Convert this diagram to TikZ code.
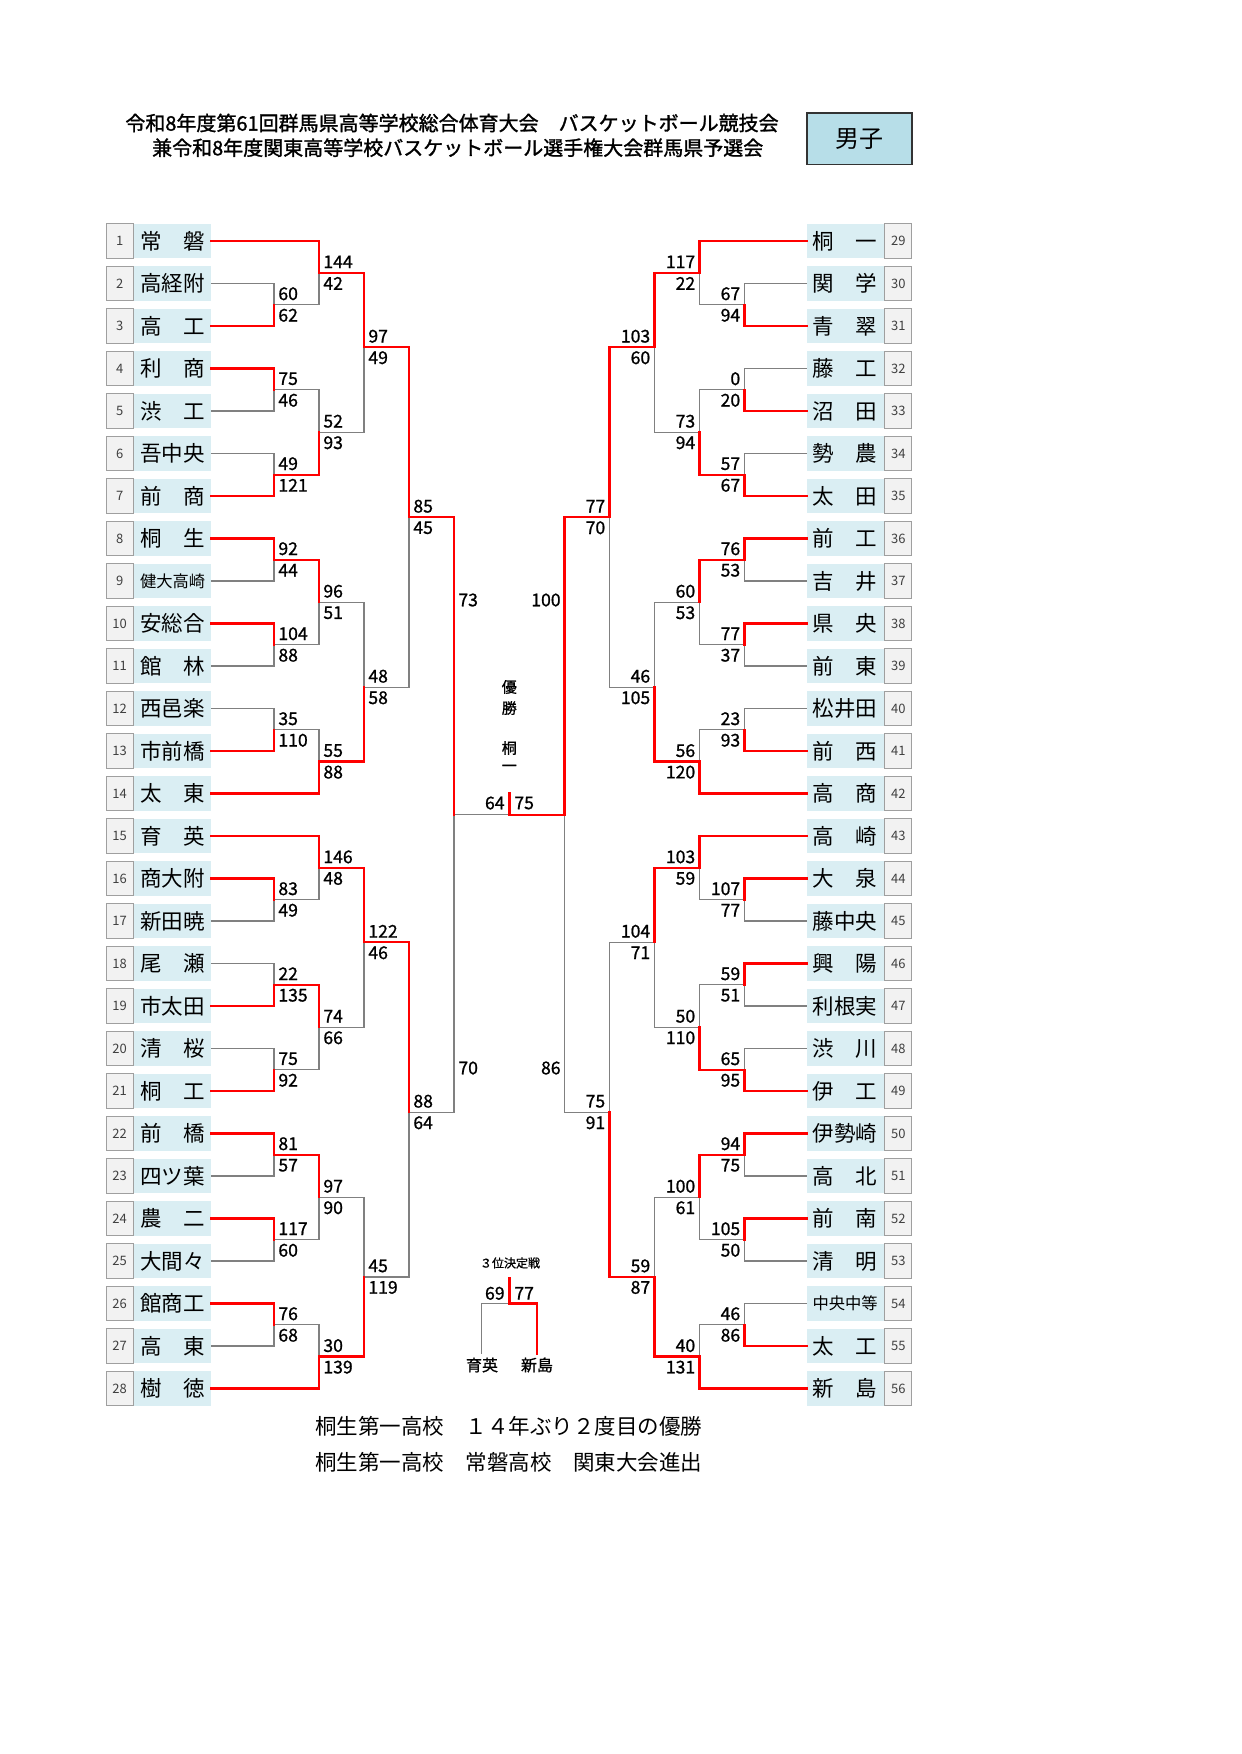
\documentclass[tikz,border=0pt]{standalone}
\usepackage{fontspec}
\newfontfamily\cjk{Noto Sans CJK JP}
\newfontfamily\cjkb[FakeBold=1.4]{Noto Sans CJK JP}
\newfontfamily\cjks[FakeBold=1]{Noto Sans CJK JP}
\definecolor{namefill}{HTML}{DAEEF3}
\definecolor{titlebox}{HTML}{B7DEE8}
\definecolor{numfill}{HTML}{F2F2F2}
\definecolor{wred}{HTML}{FF0000}
\definecolor{lgray}{HTML}{808080}
\pgfdeclarelayer{back}
\pgfdeclarelayer{paper}
\pgfsetlayers{paper,back,main}
\tikzset{
  win/.style={draw=wred, line width=1.2pt, line cap=rect},
  lose/.style={draw=lgray, line width=0.55pt},
  namebox/.style={fill=namefill, minimum width=38.35pt, minimum height=17.15pt, inner sep=0pt, font=\cjk\fontsize{10.75}{12}\selectfont},
  numbox/.style={fill=numfill, draw=gray!75, line width=0.5pt, minimum width=13.65pt, minimum height=17.15pt, inner sep=0pt, font=\cjk\fontsize{6.5}{7}\selectfont, text=black!75},
  score/.style={inner sep=0pt, font=\cjks\fontsize{8.8}{9}\selectfont},
  titletext/.style={inner sep=0pt, font=\cjkb\fontsize{10}{12}\selectfont},
  foot/.style={inner sep=0pt, anchor=west, font=\cjk\fontsize{10.75}{12}\selectfont},
  midtext/.style={inner sep=0pt, font=\cjks\fontsize{7.5}{8}\selectfont},
  tplabel/.style={inner sep=0pt, font=\cjks\fontsize{8}{9}\selectfont},
  tphead/.style={inner sep=0pt, font=\cjks\fontsize{6}{7}\selectfont},
}
\newcommand\smallnm{\fontsize{8.15}{9}\selectfont}
% match: #1 x of vertical, #2 q top, #3 x top from, #4 q bottom, #5 x bottom from, #6 winner t/b, #7 top score, #8 bottom score, #9 q join
\newcommand\M[9]{%
  \pgfmathsetmacro\ya{241+10.625*(#2)}%
  \pgfmathsetmacro\yb{241+10.625*(#4)}%
  \pgfmathsetmacro\yj{241+10.625*(#9)}%
  \pgfmathsetmacro\xs{#1+\sd}%
  \if#6t
    \begin{pgfonlayer}{back}\draw[lose] (#5,\yb) -- (#1,\yb) -- (#1,\yj);\end{pgfonlayer}
    \draw[win] (#3,\ya) -- (#1,\ya) -- (#1,\yj);
  \else
    \begin{pgfonlayer}{back}\draw[lose] (#3,\ya) -- (#1,\ya) -- (#1,\yj);\end{pgfonlayer}
    \draw[win] (#5,\yb) -- (#1,\yb) -- (#1,\yj);
  \fi
  \node[score,anchor=\sa] at (\xs,\yj-11) {#7};
  \node[score,anchor=\sa] at (\xs,\yj+10.5) {#8};
}
\begin{document}
\begin{tikzpicture}[x=0.5pt,y=-0.5pt]
\begin{pgfonlayer}{paper}
\fill[white] (0,0) rectangle (1241,1754);
\end{pgfonlayer}
\useasboundingbox (0,0) rectangle (1241,1754);

% title
\node[titletext] (title1) at (452,123) {令和8年度第61回群馬県高等学校総合体育大会　バスケットボール競技会};
\node[titletext] (title2) at (457.7,147.7) {兼令和8年度関東高等学校バスケットボール選手権大会群馬県予選会};
\node[draw=black!80, line width=0.8pt, fill=titlebox, minimum width=52.6pt, minimum height=25.75pt, inner sep=0pt, font=\cjk\fontsize{12}{13}\selectfont] (sex) at (859.4,138.75) {男子};

% teams left
\foreach \i/\t in {1/常　磐,2/高経附,3/高　工,4/利　商,5/渋　工,6/吾中央,7/前　商,8/桐　生,9/{\smallnm 健大高崎},10/安総合,11/館　林,12/西邑楽,13/市前橋,14/太　東,15/育　英,16/商大附,17/新田暁,18/尾　瀬,19/市太田,20/清　桜,21/桐　工,22/前　橋,23/四ツ葉,24/農　二,25/大間々,26/館商工,27/高　東,28/樹　徳}{
  \pgfmathsetmacro\yy{241+42.5*(\i-1)}
  \node[numbox] (b\i) at (119.7,\yy) {\i};
  \node[namebox] (n\i) at (172.65,\yy) {\t};
}
% teams right
\foreach \i/\t in {29/桐　一,30/関　学,31/青　翠,32/藤　工,33/沼　田,34/勢　農,35/太　田,36/前　工,37/吉　井,38/県　央,39/前　東,40/松井田,41/前　西,42/高　商,43/高　崎,44/大　泉,45/藤中央,46/興　陽,47/利根実,48/渋　川,49/伊　工,50/伊勢崎,51/高　北,52/前　南,53/清　明,54/{\smallnm 中央中等},55/太　工,56/新　島}{
  \pgfmathsetmacro\yy{241+42.5*(\i-29)}
  \node[numbox] (b\i) at (898.3,\yy) {\i};
  \node[namebox] (n\i) at (845.15,\yy) {\t};
}

% left bracket
\def\sa{west}\def\sd{4}
\M{274}{4}{211}{8}{211}{b}{60}{62}{6}
\M{319}{0}{211}{6}{274}{t}{144}{42}{3}
\M{274}{12}{211}{16}{211}{t}{75}{46}{14}
\M{274}{20}{211}{24}{211}{b}{49}{121}{22}
\M{319}{14}{274}{22}{274}{b}{52}{93}{18}
\M{364}{3}{319}{18}{319}{t}{97}{49}{10}
\M{274}{28}{211}{32}{211}{t}{92}{44}{30}
\M{274}{36}{211}{40}{211}{t}{104}{88}{38}
\M{319}{30}{274}{38}{274}{t}{96}{51}{34}
\M{274}{44}{211}{48}{211}{b}{35}{110}{46}
\M{319}{46}{274}{52}{211}{b}{55}{88}{49}
\M{364}{34}{319}{49}{319}{b}{48}{58}{42}
\M{409}{10}{364}{42}{364}{t}{85}{45}{26}
\M{274}{60}{211}{64}{211}{t}{83}{49}{62}
\M{319}{56}{211}{62}{274}{t}{146}{48}{59}
\M{274}{68}{211}{72}{211}{b}{22}{135}{70}
\M{274}{76}{211}{80}{211}{b}{75}{92}{78}
\M{319}{70}{274}{78}{274}{t}{74}{66}{74}
\M{364}{59}{319}{74}{319}{t}{122}{46}{66}
\M{274}{84}{211}{88}{211}{t}{81}{57}{86}
\M{274}{92}{211}{96}{211}{t}{117}{60}{94}
\M{319}{86}{274}{94}{274}{t}{97}{90}{90}
\M{274}{100}{211}{104}{211}{t}{76}{68}{102}
\M{319}{102}{274}{108}{211}{b}{30}{139}{105}
\M{364}{90}{319}{105}{319}{b}{45}{119}{97.5}
\M{409}{66}{364}{97.5}{364}{t}{88}{64}{82}

% right bracket
\def\sa{east}\def\sd{-4}
\M{744.6}{4}{807}{8}{807}{b}{67}{94}{6}
\M{699.6}{0}{807}{6}{744.6}{t}{117}{22}{3}
\M{744.6}{12}{807}{16}{807}{b}{0}{20}{14}
\M{744.6}{20}{807}{24}{807}{b}{57}{67}{22}
\M{699.6}{14}{744.6}{22}{744.6}{b}{73}{94}{18}
\M{654.6}{3}{699.6}{18}{699.6}{t}{103}{60}{10}
\M{744.6}{28}{807}{32}{807}{t}{76}{53}{30}
\M{744.6}{36}{807}{40}{807}{t}{77}{37}{38}
\M{699.6}{30}{744.6}{38}{744.6}{t}{60}{53}{34}
\M{744.6}{44}{807}{48}{807}{b}{23}{93}{46}
\M{699.6}{46}{744.6}{52}{807}{b}{56}{120}{49}
\M{654.6}{34}{699.6}{49}{699.6}{b}{46}{105}{42}
\M{609.6}{10}{654.6}{42}{654.6}{t}{77}{70}{26}
\M{744.6}{60}{807}{64}{807}{t}{107}{77}{62}
\M{699.6}{56}{807}{62}{744.6}{t}{103}{59}{59}
\M{744.6}{68}{807}{72}{807}{t}{59}{51}{70}
\M{744.6}{76}{807}{80}{807}{b}{65}{95}{78}
\M{699.6}{70}{744.6}{78}{744.6}{b}{50}{110}{74}
\M{654.6}{59}{699.6}{74}{699.6}{t}{104}{71}{66}
\M{744.6}{84}{807}{88}{807}{t}{94}{75}{86}
\M{744.6}{92}{807}{96}{807}{t}{105}{50}{94}
\M{699.6}{86}{744.6}{94}{744.6}{t}{100}{61}{90}
\M{744.6}{100}{807}{104}{807}{b}{46}{86}{102}
\M{699.6}{102}{744.6}{108}{807}{b}{40}{131}{105}
\M{654.6}{90}{699.6}{105}{699.6}{b}{59}{87}{97.5}
\M{609.6}{66}{654.6}{97.5}{654.6}{b}{75}{91}{82}

% semifinals
\begin{pgfonlayer}{back}
\draw[lose] (409,1112.25) -- (454,1112.25) -- (454,814.75);
\draw[lose] (609.6,1112.25) -- (564.6,1112.25) -- (564.6,814.75);
\draw[lose] (454,814.75) -- (509.3,814.75);
\end{pgfonlayer}
\draw[win] (409,517.25) -- (454,517.25) -- (454,814.75);
\draw[win] (609.6,517.25) -- (564.6,517.25) -- (564.6,814.75);
\draw[win] (564.6,814.75) -- (509.3,814.75) -- (509.3,793);
\node[score,anchor=west] (s73) at (458,600) {73};
\node[score,anchor=west] (s70) at (458,1068) {70};
\node[score,anchor=east] (s100) at (561,600) {100};
\node[score,anchor=east] (s86) at (561,1068) {86};
\node[score,anchor=east] (f64) at (505,803) {64};
\node[score,anchor=west] (f75) at (514,803) {75};

% champion
\node[midtext] (c1) at (509.3,687) {優};
\node[midtext] (c2) at (509.3,708) {勝};
\node[midtext] (c3) at (509.3,748) {桐};
\node[midtext] (c4) at (509.3,768) {一};

% third place
\node[tphead] (tp) at (510,1263) {３位決定戦};
\node[tplabel] (ik) at (482,1365) {育英};
\node[tplabel] (ni) at (537,1365) {新島};
\coordinate (tpt) at (509.3,1278);
\coordinate (tpj) at (509.3,1303.3);
\coordinate (ikt) at (481.7,1354);
\coordinate (nit) at (536.7,1354);
\begin{pgfonlayer}{back}
\draw[lose] (tpj) -- (ikt |- tpj) -- (ikt);
\end{pgfonlayer}
\draw[win] (tpt) -- (tpj) -- (nit |- tpj) -- (nit);
\node[score,anchor=east] (t69) at (505,1293.3) {69};
\node[score,anchor=west] (t77) at (514,1293.3) {77};

% footer
\node[foot] (f1) at (315,1426) {桐生第一高校　１４年ぶり２度目の優勝};
\node[foot] (f2) at (315,1462) {桐生第一高校　常磐高校　関東大会進出};
\end{tikzpicture}
\end{document}
